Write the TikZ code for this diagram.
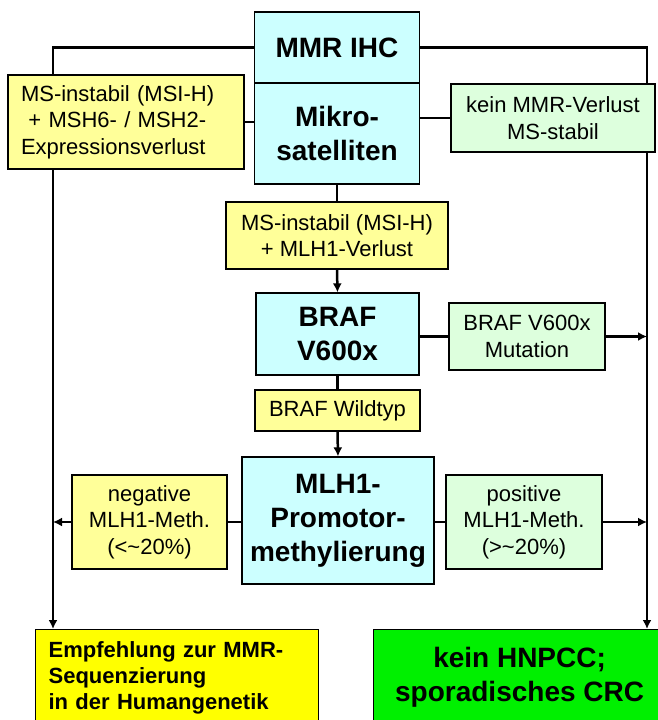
\documentclass[tikz,border=0pt]{standalone}
\usepackage{fontspec}
\setmainfont{Liberation Sans}
\usetikzlibrary{arrows.meta}
\definecolor{testblue}{HTML}{CCFFFF}
\definecolor{paleyellow}{HTML}{FFFF99}
\definecolor{palegreen}{HTML}{DDFFDD}
\definecolor{strongyellow}{HTML}{FFFF00}
\definecolor{stronggreen}{HTML}{00F000}

\begin{document}
\begin{tikzpicture}[x=1pt,y=-1pt,
    flowbox/.style={draw,line width=1.2pt,inner sep=0pt,align=center,
      font=\fontsize{22}{26.5}\selectfont},
    testbox/.style={flowbox,fill=testblue,font=\bfseries\fontsize{28}{34}\selectfont},
    yellowbox/.style={flowbox,fill=paleyellow},
    greenbox/.style={flowbox,fill=palegreen},
    wire/.style={line width=2.5pt},
    arr/.style={wire,-{Latex[length=9pt,width=9pt]}}]
  \useasboundingbox (0,0) rectangle (657,720);

  % the tests down the middle
  \node[testbox,minimum width=165pt,minimum height=71pt] (ihc) at (337,47.5) {MMR IHC};
  \node[testbox,minimum width=165pt,minimum height=101pt] (mikro) at (337,133.5) {Mikro-\\satelliten};
  \node[yellowbox,minimum width=222pt,minimum height=67pt] (mlhloss) at (337,235.5)
    {MS-instabil (MSI-H)\\+ MLH1-Verlust};
  \node[testbox,minimum width=163pt,minimum height=82pt] (braf) at (337.5,334) {BRAF\\V600x};
  \node[yellowbox,minimum width=165pt,minimum height=41pt] (wildtyp) at (337.5,410.5) {BRAF Wildtyp};
  \node[testbox,minimum width=192pt,minimum height=127pt] (mlh1) at (338,520.5)
    {MLH1-\\Promotor-\\methylierung};

  % results beside them
  \node[yellowbox,minimum height=94pt,text width=210pt,inner xsep=13pt,align=left] (msh) at (126,122)
    {MS-instabil (MSI-H)\\\ + MSH6- / MSH2-\\Expressionsverlust};
  \node[greenbox,minimum width=204pt,minimum height=68pt] (stabil) at (553,118)
    {kein MMR-Verlust\\MS-stabil};
  \node[greenbox,minimum width=156pt,minimum height=67pt] (mutation) at (527,336.5)
    {BRAF V600x\\Mutation};
  \node[yellowbox,minimum width=155pt,minimum height=94pt] (negative) at (149.5,522)
    {negative\\MLH1-Meth.\\(<\textasciitilde20\%)};
  \node[greenbox,minimum width=156pt,minimum height=94pt] (positive) at (524,522)
    {positive\\MLH1-Meth.\\(>\textasciitilde20\%)};

  % conclusions
  \node[flowbox,fill=strongyellow,anchor=north west,minimum height=96pt,text width=257pt,
    inner xsep=13pt,align=left,font=\bfseries\fontsize{22}{26}\selectfont] (empf) at (35,629)
    {Empfehlung zur MMR-\\Sequenzierung\\in der Humangenetik};
  \node[flowbox,fill=stronggreen,anchor=north west,minimum width=292pt,minimum height=96pt,
    font=\bfseries\fontsize{28}{34}\selectfont] (hnpcc) at (373,629)
    {kein HNPCC;\\sporadisches CRC};

  \coordinate (lcol) at (53,47.5);
  \coordinate (rcol) at (647,47.5);

  % connectors
  \draw[wire] (mikro.south) -- (mlhloss.north);
  \draw[arr] (mlhloss.south) -- (braf.north);
  \draw[wire] (braf.south) -- (wildtyp.north);
  \draw[arr] (wildtyp.south) -- (mlh1.north);
  \draw[wire] (msh.east) -- (msh.east -| mikro.west);
  \draw[wire] (stabil.west) -- (stabil.west -| mikro.east);
  \draw[wire] (mutation.west -| braf.east) -- (mutation.west);
  \draw[wire] (negative.east) -- (negative.east -| mlh1.west);
  \draw[wire] (positive.west) -- (positive.west -| mlh1.east);
  \draw[wire] (ihc.west) -| (msh.north -| lcol);
  \draw[arr] (msh.south -| lcol) -- (empf.north -| lcol);
  \draw[wire] (ihc.east) -| (stabil.north -| rcol);
  \draw[arr] (stabil.south -| rcol) -- (hnpcc.north -| rcol);
  \draw[arr] (mutation.east) -- (mutation.east -| rcol);
  \draw[arr] (positive.east) -- (positive.east -| rcol);
  \draw[arr] (negative.west) -- (negative.west -| lcol);
\end{tikzpicture}
\end{document}
